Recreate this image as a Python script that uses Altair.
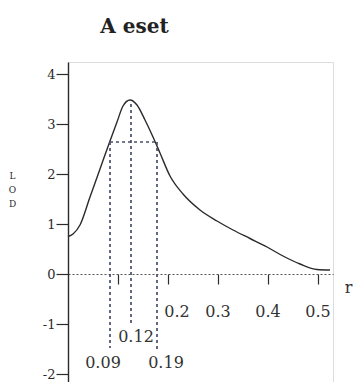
import altair as alt
import pandas as pd

# LOD curve
curve_r = [0.0, 0.01, 0.024, 0.044, 0.064, 0.084, 0.098, 0.11, 0.124,
           0.138, 0.154, 0.17, 0.184, 0.204, 0.23, 0.264, 0.298, 0.33, 0.364,
           0.398, 0.43, 0.464, 0.498, 0.524]
curve_lod = [0.75, 0.8, 0.98, 1.54, 2.10, 2.66, 3.04, 3.36, 3.48,
             3.38, 3.08, 2.74, 2.42, 1.96, 1.60, 1.28, 1.06, 0.88, 0.71,
             0.54, 0.36, 0.20, 0.09, 0.08]

# dashed confidence lines
vline_r = [0.084, 0.126, 0.178]
vline_top = [2.64, 3.4, 2.64]
vline_bottom = [-1.48, -1.02, -1.52]
hline_r1 = [0.084]
hline_r2 = [0.178]
hline_lod = [2.64]

# x tick labels drawn as text
lab_text = ["0.2", "0.3", "0.4", "0.5", "0.12", "0.09", "0.19"]
lab_r = [0.218, 0.3, 0.4, 0.5, 0.136, 0.07, 0.196]
lab_lod = [-0.76, -0.76, -0.76, -0.76, -1.26, -1.78, -1.78]

y_ticks = [-2, -1, 0, 1, 2, 3, 4]
x_ticks = [0.1, 0.2, 0.3, 0.4, 0.5]

FONT = "DejaVu Serif"
INK = "#2b2b2b"
DASH = "#4a4f6a"

xs = alt.Scale(domain=[0, 0.53], nice=False, zero=False)
ys = alt.Scale(domain=[-2.16, 4.24], nice=False, zero=False)

curve_df = pd.DataFrame({"r": curve_r, "lod": curve_lod})
vdf = pd.DataFrame({"r": vline_r, "top": vline_top, "bottom": vline_bottom})
hdf = pd.DataFrame({"r1": hline_r1, "r2": hline_r2, "lod": hline_lod})
ldf = pd.DataFrame({"t": lab_text, "r": lab_r, "lod": lab_lod})
rdf = pd.DataFrame({"t": ["r"], "r": [0.561], "lod": [-0.28]})

xaxis = alt.Axis(orient="bottom", offset=-108, values=x_ticks, labels=False,
                 title=None, grid=False, domainDash=[2, 2], domainColor="#555",
                 domainWidth=1.2, tickColor=INK, tickSize=10, tickWidth=1.2)
yaxis = alt.Axis(values=y_ticks, grid=False, tickSize=12, tickColor=INK,
                 tickWidth=1.2, domainColor=INK, domainWidth=1.4,
                 labelFont=FONT, labelFontSize=13, labelColor=INK,
                 labelPadding=1,
                 labelExpr="datum.value < 0 ? '-' + abs(datum.value) : '' + datum.value",
                 title=["L", "O", "D"], titleAngle=0, titleFont=FONT,
                 titleFontSize=9, titleFontWeight="normal", titleColor=INK,
                 titleX=-56, titleY=113, titleAlign="center",
                 titleBaseline="middle", titleLineHeight=14)

line = alt.Chart(curve_df).mark_line(color=INK, strokeWidth=1.4,
                                     interpolate="monotone").encode(
    x=alt.X("r:Q", scale=xs, axis=xaxis),
    y=alt.Y("lod:Q", scale=ys, axis=yaxis),
)

vrules = alt.Chart(vdf).mark_rule(color=DASH, strokeWidth=1.7,
                                  strokeDash=[3, 3]).encode(
    x=alt.X("r:Q", scale=xs),
    y=alt.Y("top:Q", scale=ys),
    y2="bottom:Q",
)

hrule = alt.Chart(hdf).mark_rule(color=DASH, strokeWidth=1.7,
                                 strokeDash=[3, 3]).encode(
    x=alt.X("r1:Q", scale=xs),
    x2="r2:Q",
    y=alt.Y("lod:Q", scale=ys),
)

labels = alt.Chart(ldf).mark_text(font=FONT, fontSize=16, color="#333",
                                  align="center", baseline="middle").encode(
    x=alt.X("r:Q", scale=xs),
    y=alt.Y("lod:Q", scale=ys),
    text="t:N",
)

rlab = alt.Chart(rdf).mark_text(font=FONT, fontSize=16, color="#333",
                                align="center", baseline="middle").encode(
    x=alt.X("r:Q", scale=xs),
    y=alt.Y("lod:Q", scale=ys),
    text="t:N",
)

chart = alt.layer(line, vrules, hrule, labels, rlab).properties(
    width=265, height=320,
    title=alt.TitleParams("A eset", font=FONT, fontSize=20, fontWeight="bold",
                          color="#222", anchor="middle", dx=-66, offset=9,
                          baseline="alphabetic"),
    autosize=alt.AutoSizeParams(type="none"),
    padding={"left": 68, "top": 62, "right": 22, "bottom": 0},
).configure_view(stroke=None).configure(background="white")

chart.save("out.html", embed_options={"renderer": "svg", "actions": False})
